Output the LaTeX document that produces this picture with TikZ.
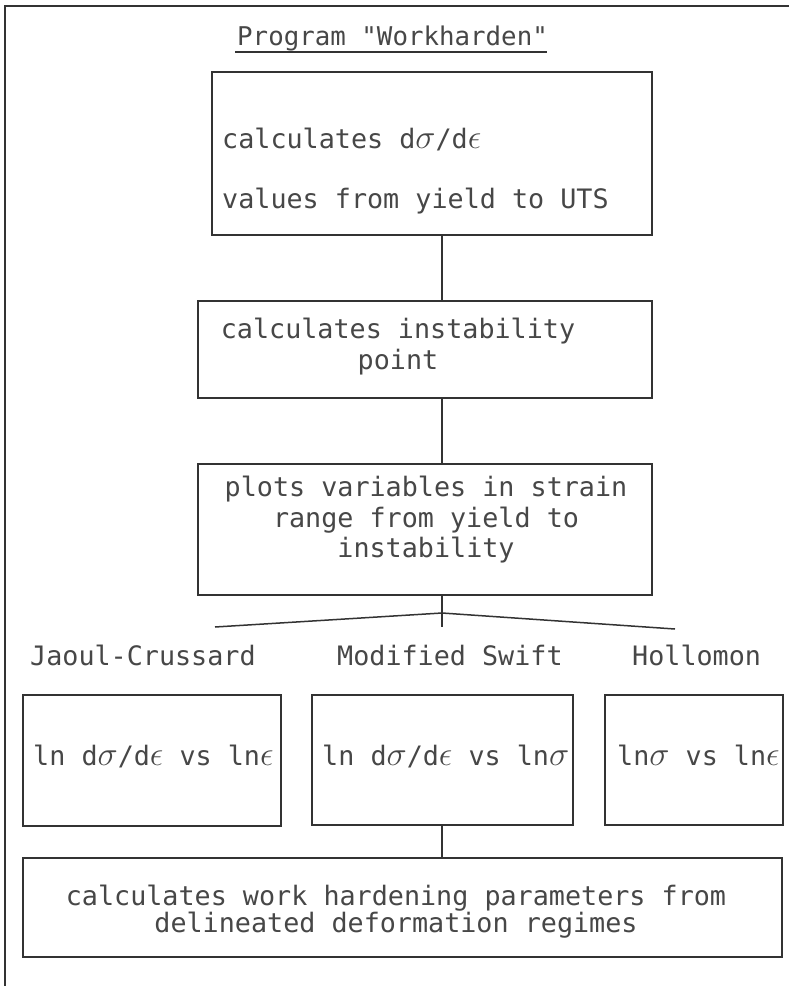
\RequirePackage{fix-cm}
\documentclass[tikz,border=0pt]{standalone}
\usepackage{fontspec}
\newfontfamily\tw{DejaVu Sans Mono}
\definecolor{ink}{gray}{0.2}
\definecolor{tink}{gray}{0.28}
\newcommand{\gsig}{{\fontsize{34}{30}\selectfont$\sigma$}}
\newcommand{\geps}{{\fontsize{34}{30}\selectfont$\epsilon$}}
\begin{document}
\begin{tikzpicture}[x=1pt,y=-1pt,
  line/.style={draw=ink, line width=1.5pt},
  boxnode/.style={line, rectangle, inner sep=0pt},
  txt/.style={text=tink, font=\tw\fontsize{26.75}{30}\selectfont, inner sep=0pt}
]
\useasboundingbox (0,0) rectangle (789,986);
\fill[white] (0,0) rectangle (789,986);

% frame (top and left edges)
\coordinate (fBL) at (5,986);
\coordinate (fTL) at (5,6);
\coordinate (fTR) at (789,6);
\draw[line] (fBL) -- (fTL) -- (fTR);

% title
\node[txt, font=\tw\fontsize{25.8}{30}\selectfont, anchor=base west] (title) at (237,45) {Program "Workharden"};
\coordinate (ulL) at (235,52);
\coordinate (ulR) at (547,52);
\draw[line, line width=1.4pt] (ulL) -- (ulR);

% boxes
\node[boxnode, minimum width=440pt, minimum height=163pt] (b1) at (432,153.5) {};
\node[boxnode, minimum width=454pt, minimum height=97pt]  (b2) at (425,349.5) {};
\node[boxnode, minimum width=454pt, minimum height=131pt] (b3) at (425,529.5) {};
\node[boxnode, minimum width=258pt, minimum height=131pt] (b4) at (152,760.5) {};
\node[boxnode, minimum width=261pt, minimum height=130pt] (b5) at (442.5,760) {};
\node[boxnode, minimum width=178pt, minimum height=130pt] (b6) at (694,760) {};
\node[boxnode, minimum width=759pt, minimum height=99pt]  (b7) at (402.5,907.5) {};

% box texts
\node[txt, anchor=base west] (b1a) at (222,148) {calculates d\gsig/d\geps};
\node[txt, anchor=base west] (b1b) at (222,208) {values from yield to UTS};

\node[txt, anchor=base] (b2a) at (398,338) {calculates instability};
\node[txt, anchor=base] (b2b) at (398,369) {point};

\node[txt, anchor=base] (b3a) at (426,496) {plots variables in strain};
\node[txt, anchor=base] (b3b) at (426,527) {range from yield to};
\node[txt, anchor=base] (b3c) at (426,557) {instability};

\node[txt, anchor=base west] (l4) at (30,665) {Jaoul-Crussard};
\node[txt, anchor=base west] (l5) at (337,665) {Modified Swift};
\node[txt, anchor=base west] (l6) at (632,665) {Hollomon};

\node[txt, anchor=base west] (b4a) at (33,765) {ln d\gsig/d\geps{} vs ln\geps};
\node[txt, anchor=base west] (b5a) at (322,765) {ln d\gsig/d\geps{} vs ln\gsig};
\node[txt, anchor=base west] (b6a) at (617,765) {ln\gsig{} vs ln\geps};

\node[txt, anchor=base] (b7a) at (396,905) {calculates work hardening parameters from};
\node[txt, anchor=base] (b7b) at (396,932) {delineated deformation regimes};

% connectors
\coordinate (spine) at (442,0);
\draw[line] (b1.south -| spine) -- (b2.north -| spine);
\draw[line] (b2.south -| spine) -- (b3.north -| spine);
\coordinate (apex) at (442,613);
\coordinate (tick) at (442,627);
\coordinate (forkL) at (215,627);
\coordinate (forkR) at (675,629);
\draw[line] (b3.south -| spine) -- (tick);
\draw[line] (forkL) -- (apex) -- (forkR);
\draw[line] (b5.south -| spine) -- (b7.north -| spine);
\end{tikzpicture}
\end{document}
